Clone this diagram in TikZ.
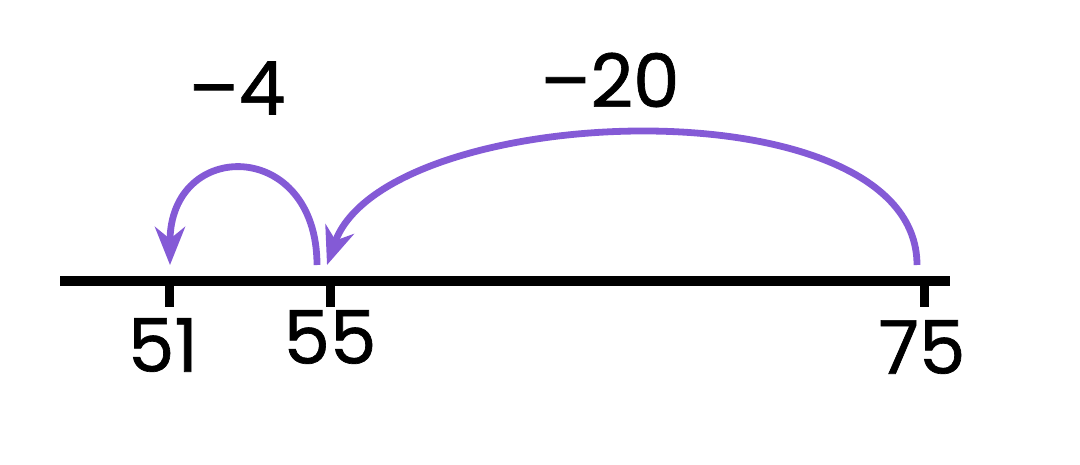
\documentclass[tikz,border=0pt]{standalone}
\usepackage{fontspec}
\setmainfont{Poppins}[FakeBold=0.9]
\usepackage{xcolor}
\usetikzlibrary{arrows.meta}
\definecolor{jump}{RGB}{132,90,214}
\tikzset{
  axis/.style={line width=5pt},
  tickmark/.style={line width=4.5pt},
  hop/.style={draw=jump, line width=3.4pt, -{Stealth[length=19pt,width=15pt,inset=6pt]}},
  num/.style={font=\fontsize{37}{40}\selectfont, inner sep=0pt}
}
\begin{document}
\begin{tikzpicture}[x=0.5pt,y=-0.5pt]
\useasboundingbox (0,0) rectangle (1080,465);
\coordinate (L) at (60,281);
\coordinate (R) at (950,281);
\draw[axis] (L) -- (R);
\foreach \n/\x in {51/169,55/330,75/924}{
  \coordinate (t\n) at (\x,281);
  \draw[tickmark] (t\n) -- ++(0,26);
}
\node[num] (l51) at (163,345) {51};
\node[num] (l55) at (330,337) {55};
\node[num] (l75) at (922,347) {75};
% jumps
\coordinate (s55) at (317,265);
\coordinate (e51) at (170,265);
\coordinate (s75) at (917,265);
\coordinate (e55) at (327,265);
\draw[hop] (s55) .. controls (317,138) and (170,138) .. (e51);
\draw[hop] (s75) .. controls (917,80) and (385,100) .. (e55);
\node[num] (m4) at (237,88) {–4};
\node[num] (m20) at (610,80) {–20};
\end{tikzpicture}
\end{document}
